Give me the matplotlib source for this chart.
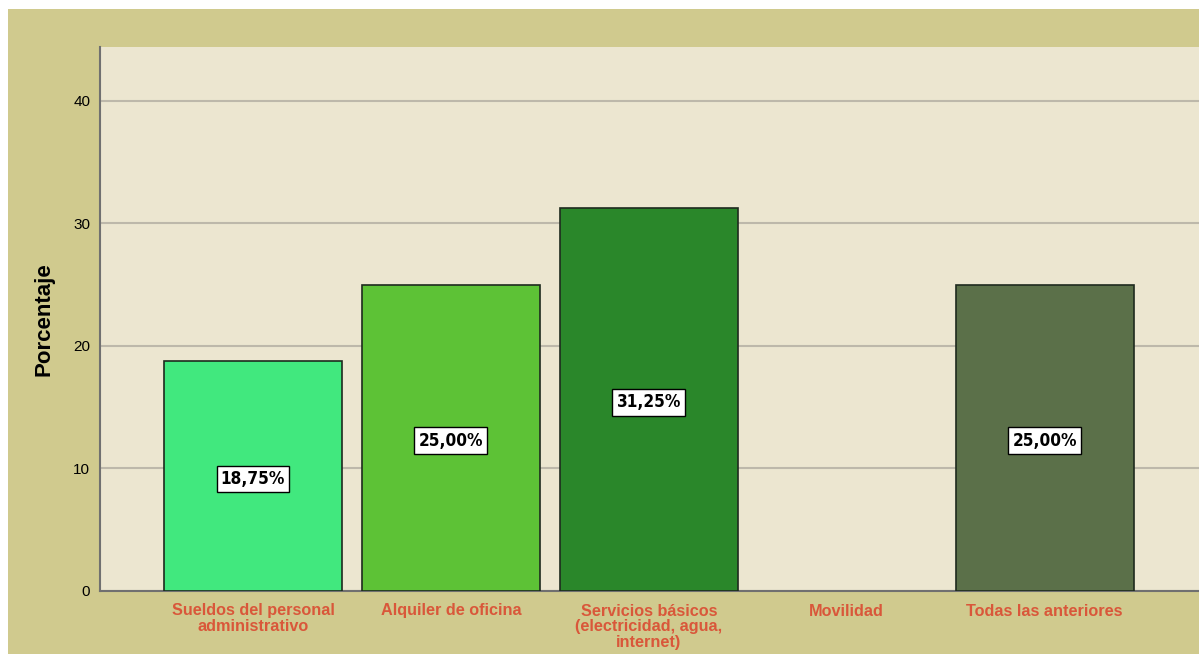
import matplotlib
matplotlib.use("Agg")
import matplotlib.pyplot as plt
from matplotlib.patches import Rectangle
from matplotlib import font_manager as fm

categories = ["Sueldos del personal\nadministrativo", "Alquiler de oficina",
              "Servicios básicos\n(electricidad, agua,\ninternet)", "Movilidad",
              "Todas las anteriores"]
values = [18.75, 25.00, 31.25, 0.0, 25.00]
labels = ["18,75%", "25,00%", "31,25%", None, "25,00%"]
colors = ["#41E87E", "#5DC236", "#2A872A", "#888888", "#5B7049"]
yticks = [0, 10, 20, 30, 40]

# condensed font for value labels if available
fp = fm.FontProperties(family="DejaVu Sans", weight="bold", stretch="condensed")
path = fm.findfont(fp)
if "Condensed" in path:
    vfont = dict(family="DejaVu Sans", fontstretch="condensed", fontsize=12.3)
else:
    vfont = dict(family="DejaVu Sans", fontsize=11)

W, H = 1199, 654
fig = plt.figure(figsize=(W / 100, H / 100), dpi=100, facecolor="white")
fig.patches.append(Rectangle((8 / W, 0), 1 - 8 / W, (H - 9) / H,
                             transform=fig.transFigure, facecolor="#D0CA8E",
                             edgecolor="none", zorder=-10))
ax = fig.add_axes([100 / W, (H - 591) / H, (W - 100) / W, (591 - 47) / H])
ax.set_zorder(1)
ax.set_facecolor("#ECE6D0")

x = list(range(len(categories)))
for xi, v, c, lab in zip(x, values, colors, labels):
    if v > 0:
        ax.bar(xi, v, width=0.9, color=c, edgecolor="#1E2A1E", linewidth=1.2, zorder=3)
    if lab:
        ax.annotate(lab, (xi, v / 2), xytext=(0, -2), textcoords="offset points",
                    ha="center", va="center", fontweight="bold", color="black",
                    bbox=dict(boxstyle="square,pad=0.25", facecolor="white",
                              edgecolor="black", linewidth=1), zorder=4, **vfont)

ax.set_xlim(-0.773, 4.78)
ax.set_ylim(0, 44.4)
ax.set_yticks(yticks)
ax.set_yticklabels([str(t) for t in yticks], fontsize=11, family="Liberation Sans")
ax.yaxis.grid(True, color="#BDB8AA", linewidth=1.5, zorder=1)
ax.set_axisbelow(True)
ax.set_xticks(x)
ax.set_xticklabels(categories, fontsize=11.7, fontweight="bold",
                   family="Liberation Sans", color="#D9573A", linespacing=1.08,
                   va="top")
ax.tick_params(axis="both", length=0)
ax.tick_params(axis="x", pad=9)
ax.tick_params(axis="y", pad=7)
ax.set_ylabel("Porcentaje", fontsize=16, fontweight="bold", family="Liberation Sans",
              va="center")
ax.yaxis.set_label_coords(-0.051, 0.5)
for s in ["top", "right"]:
    ax.spines[s].set_visible(False)
ax.spines["left"].set_color("#707070")
ax.spines["left"].set_linewidth(1.5)
ax.spines["bottom"].set_color("#707070")
ax.spines["bottom"].set_linewidth(1.5)

fig.savefig("out.png", dpi=100, facecolor=fig.get_facecolor())
